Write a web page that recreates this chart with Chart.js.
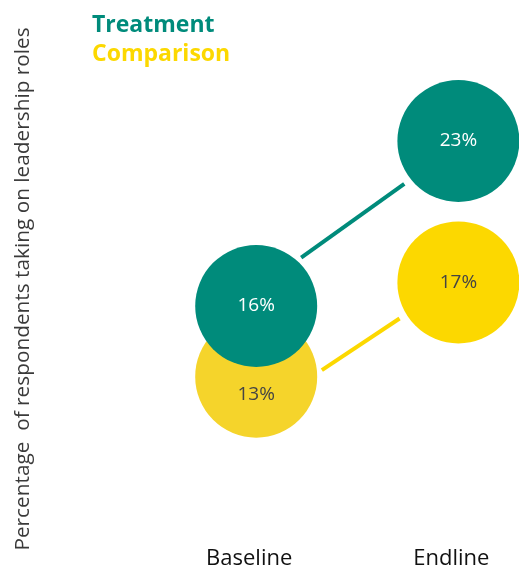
<!DOCTYPE html>
<html>
<head>
<meta charset="utf-8">
<script src="https://cdn.jsdelivr.net/npm/chart.js@4.4.1/dist/chart.umd.min.js"></script>
<style>
  html, body { margin: 0; padding: 0; background: #fff; }
  #wrap { width: 519px; height: 571px; }
</style>
</head>
<body>
<div id="wrap"><canvas id="myChart"></canvas></div>
<script>
// data
const categories = ['Baseline', 'Endline']
const seriesNames = ['Treatment', 'Comparison']
const treatment = [16, 23]
const comparison = [13, 17]

const teal = '#008b7b'
const yellow = '#fcd800'
const yellowPale = '#f5d42b'
const fontFam = "'Open Sans', sans-serif"

// how far a ray from p (shifted by d) along u travels before leaving circle of radius R around p
function exitDist(d, u, R) {
  const du = d.x * u.x + d.y * u.y
  const dd = d.x * d.x + d.y * d.y
  return -du + Math.sqrt(du * du - dd + R * R)
}

// connectors between the two circles of a series, with a small gap
const connectors = {
  id: 'connectors',
  beforeDatasetsDraw(chart) {
    const ctx = chart.ctx
    chart.data.datasets.forEach((ds, i) => {
      const pts = chart.getDatasetMeta(i).data
      if (pts.length < 2) return
      const aim = ds.connectorAim || [0, 0]
      const a = { x: pts[0].x, y: pts[0].y + aim[0] }
      const b = { x: pts[1].x, y: pts[1].y + aim[1] }
      const len = Math.hypot(b.x - a.x, b.y - a.y)
      const u = { x: (b.x - a.x) / len, y: (b.y - a.y) / len }
      const R = ds.pointRadius + 5
      const t0 = exitDist({ x: 0, y: aim[0] }, u, R)
      const t1 = exitDist({ x: 0, y: aim[1] }, { x: -u.x, y: -u.y }, R + 3)
      ctx.save()
      ctx.strokeStyle = ds.borderColor
      ctx.lineWidth = 4
      ctx.beginPath()
      ctx.moveTo(a.x + u.x * t0, a.y + u.y * t0)
      ctx.lineTo(b.x - u.x * t1, b.y - u.y * t1)
      ctx.stroke()
      ctx.restore()
    })
  }
}

// value labels inside the circles
const valueLabels = {
  id: 'valueLabels',
  afterDatasetsDraw(chart) {
    const ctx = chart.ctx
    ctx.save()
    ctx.font = '19px ' + fontFam
    ctx.textAlign = 'center'
    ctx.textBaseline = 'middle'
    chart.data.datasets.forEach((ds, i) => {
      chart.getDatasetMeta(i).data.forEach((pt, j) => {
        ctx.fillStyle = ds.labelColor
        const shift = ds.labelShift ? ds.labelShift[j] : 0
        ctx.fillText(ds.data[j].y + '%', pt.x, pt.y + shift)
      })
    })
    ctx.restore()
  }
}

// series names stacked at the top left, coloured like their circles
const seriesKey = {
  id: 'seriesKey',
  afterDraw(chart) {
    const ctx = chart.ctx
    ctx.save()
    ctx.font = 'bold 23px ' + fontFam
    ctx.textAlign = 'left'
    ctx.textBaseline = 'alphabetic'
    chart.data.datasets.forEach((ds, i) => {
      ctx.fillStyle = ds.borderColor
      ctx.fillText(ds.label, 92, 32 + i * 29)
    })
    ctx.restore()
  }
}

const ctx = document.getElementById('myChart')

new Chart(ctx, {
  type: 'line',
  data: {
    datasets: [{
      label: seriesNames[0],
      data: treatment.map((v, i) => ({ x: i, y: v })),
      showLine: false,
      borderColor: teal,
      pointBackgroundColor: teal,
      pointBorderWidth: 0,
      pointRadius: 61,
      labelColor: '#ffffff',
      connectorAim: [-16, 4]
    }, {
      label: seriesNames[1],
      data: comparison.map((v, i) => ({ x: i, y: v })),
      showLine: false,
      borderColor: yellow,
      pointBackgroundColor: [yellowPale, yellow],
      pointBorderWidth: 0,
      pointRadius: 61,
      labelColor: '#444444',
      labelShift: [18, 0],
      connectorAim: [37, -3]
    }]
  },
  options: {
    responsive: true,
    maintainAspectRatio: false,
    animation: false,
    events: [],
    clip: false,
    layout: { autoPadding: false, padding: { left: 7, top: 49, right: 0, bottom: 0 } },
    plugins: {
      tooltip: { enabled: false },
      legend: { display: false }
    },
    scales: {
      x: {
        type: 'linear',
        min: -1.0695,
        max: 1.2998,
        afterBuildTicks: axis => { axis.ticks = categories.map((c, i) => ({ value: i })) },
        afterFit: axis => { axis.height = 42 },
        grid: { display: false, drawTicks: false },
        border: { display: false },
        ticks: {
          padding: 17,
          labelOffset: -7,
          maxRotation: 0,
          color: '#111111',
          font: { family: fontFam, size: 22 },
          callback: v => categories[v]
        }
      },
      y: {
        min: 6.539,
        max: 26.903,
        grid: { display: false, drawTicks: false },
        border: { display: false },
        ticks: { display: false },
        title: {
          display: true,
          text: 'Percentage  of respondents taking on leadership roles',
          color: '#3a3a3a',
          font: { family: fontFam, size: 20.8 }
        }
      }
    }
  },
  plugins: [connectors, valueLabels, seriesKey]
});
</script>
</body>
</html>
